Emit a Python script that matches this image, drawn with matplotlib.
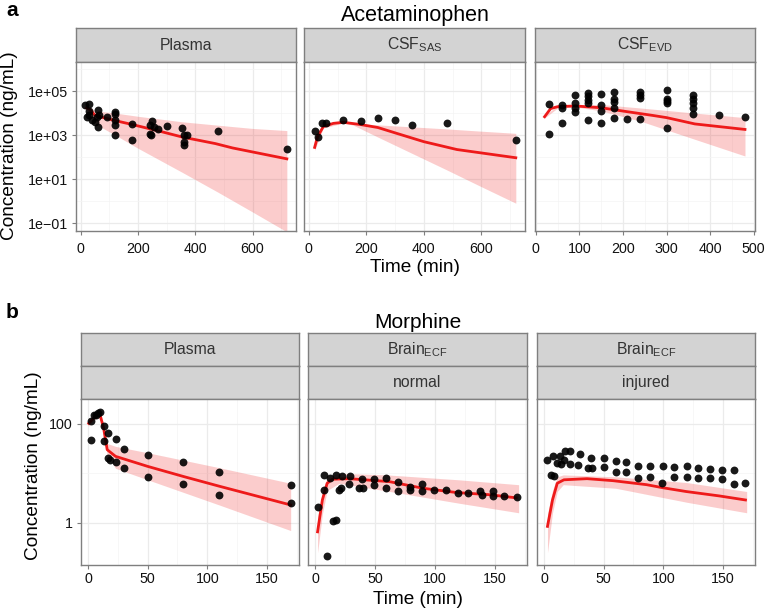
import numpy as np
import matplotlib.pyplot as plt
from matplotlib.ticker import FixedLocator, NullFormatter

plt.rcParams['font.family'] = ['Liberation Sans', 'DejaVu Sans']
plt.rcParams['mathtext.fontset'] = 'custom'
plt.rcParams['mathtext.rm'] = 'Liberation Sans'
plt.rcParams['mathtext.it'] = 'Liberation Sans'

# ---------------- data: acetaminophen ----------------
apap_plasma_t = [15, 30, 20, 30, 30, 40, 50, 60, 60, 55, 65, 90, 120, 120, 120, 120, 120,
                 180, 180, 240, 240, 250, 255, 245, 270, 300, 355, 360, 360, 360, 370, 480, 720]
apap_plasma_c = [22400, 26300, 6600, 7900, 12600, 4700, 4000, 2300, 13200, 6600, 7900, 6600,
                 9300, 4700, 2750, 1000, 11200, 3300, 575, 3000, 1150, 4400, 2300, 1000, 1800,
                 2600, 2100, 1000, 480, 360, 1000, 1480, 240]
apap_plasma_mt = [20, 30, 50, 115, 180, 275, 355, 470, 530, 720]
apap_plasma_med = [17000, 15000, 7800, 4700, 3000, 1500, 810, 410, 260, 83]
apap_plasma_rt = [20, 50, 120, 200, 355, 480, 600, 720]
apap_plasma_lo = [12600, 3200, 1000, 250, 20, 2.5, 0.32, 0.04]
apap_plasma_hi = [25000, 12600, 10000, 7100, 4000, 2800, 2000, 1600]

apap_sas_t = [20, 30, 45, 60, 120, 180, 240, 300, 360, 480, 720]
apap_sas_c = [1500, 780, 3400, 3600, 4800, 4500, 5900, 4800, 3000, 3600, 575]
apap_sas_mt = [20, 30, 50, 85, 120, 180, 240, 305, 400, 515, 720]
apap_sas_med = [275, 830, 2400, 3400, 3800, 3000, 2200, 1200, 500, 220, 93]
apap_sas_rt = [20, 50, 120, 155, 240, 360, 480, 600, 720]
apap_sas_lo = [200, 2100, 3500, 2800, 810, 145, 26, 4.5, 0.8]
apap_sas_hi = [380, 2700, 4200, 3400, 2900, 2350, 1900, 1500, 1200]

apap_evd_t = [30, 30, 60, 60, 60, 90, 90, 90, 90, 120, 120, 120, 120, 120, 150, 150, 150, 150,
              180, 180, 180, 180, 180, 210, 240, 240, 240, 240, 300, 300, 300, 300, 300,
              360, 360, 360, 360, 360, 420, 480]
apap_evd_c = [24500, 1150, 22400, 16200, 3600, 66000, 29500, 17400, 11200, 83000, 59000, 39000,
              29500, 4700, 76000, 22400, 12300, 3400, 95000, 41700, 31600, 16200, 6200, 5100,
              89000, 63000, 46800, 5500, 112000, 44700, 35500, 27500, 2000, 63000, 41700,
              29500, 17400, 8700, 8300, 6300]
apap_evd_mt = [20, 34, 50, 90, 150, 200, 270, 300, 365, 480]
apap_evd_med = [6800, 16000, 19500, 21000, 17400, 12300, 7700, 6200, 3200, 1800]
apap_evd_rt = [20, 50, 90, 150, 240, 360, 480]
apap_evd_lo = [6000, 17000, 19000, 12600, 4300, 690, 112]
apap_evd_hi = [7500, 22000, 23000, 24500, 17000, 10200, 6200]

# ---------------- data: morphine ----------------
mor_plasma_t = [2, 2, 5, 8, 10, 7, 13, 13, 17, 17, 18, 23, 23, 30, 30, 50, 50, 80, 80,
                110, 110, 170, 170]
mor_plasma_c = [112, 46, 151, 166, 170, 151, 89, 44, 66, 20, 18.6, 49, 16.6, 31, 12.6,
                23.4, 8.3, 16.6, 6.0, 10.7, 3.6, 5.75, 2.57]
mor_plasma_mt = [0.5, 6, 10, 13, 16, 23, 50, 81, 110, 170]
mor_plasma_med = [102, 141, 151, 81, 30, 22, 13.8, 8.5, 5.5, 2.3]
mor_plasma_rt = [0.5, 6, 10, 13, 16, 23, 50, 110, 170]
mor_plasma_lo = [90, 125, 135, 65, 23, 12.6, 7.4, 2.3, 0.7]
mor_plasma_hi = [115, 160, 175, 100, 40, 35, 26, 13, 6.3]

mor_normal_t = [2, 7, 7, 12, 10, 15, 17, 17, 22, 20, 21.5, 29, 28, 37, 40, 39, 49, 49, 59, 59,
                69, 69, 79, 79, 89, 89, 99, 109, 119, 128, 138, 139, 149, 149, 158, 169]
mor_normal_c = [2.1, 9.3, 4.7, 7.9, 0.21, 1.07, 1.12, 9.3, 8.9, 4.7, 5.0, 8.7, 6.0, 5.0, 5.1,
                7.6, 7.8, 5.9, 7.9, 5.0, 6.8, 4.5, 5.2, 4.7, 6.2, 4.3, 4.7, 4.7, 4.0, 4.1,
                4.5, 3.7, 4.3, 3.5, 3.5, 3.4]
mor_normal_mt = [2, 6, 10, 14.5, 28.5, 62, 90, 118, 146, 168]
mor_normal_med = [0.66, 2.9, 6.3, 7.6, 7.8, 6.8, 5.0, 4.1, 3.7, 3.2]
mor_normal_rt = [2, 6, 10, 20, 60, 120, 170]
mor_normal_lo = [0.25, 1.5, 4.5, 6.3, 4.4, 2.5, 1.6]
mor_normal_hi = [1.3, 4.0, 8.5, 10, 9.3, 7.4, 5.9]

mor_injured_t = [2, 5.5, 7.7, 8.3, 11, 13, 13.8, 17.4, 17, 22, 21.6, 28, 30, 37, 39.6, 40,
                 50, 50, 60, 60, 69, 69, 79, 79, 89, 89, 100, 99, 109, 109, 120, 120, 129, 129,
                 139, 139, 149, 149, 159, 159, 169]
mor_injured_c = [18.6, 9.3, 22.4, 8.9, 16.2, 21.9, 15.5, 28.8, 18.2, 28.8, 15.5, 14.8, 24.5,
                 12.6, 20.4, 12.6, 20.4, 13.2, 17.4, 10.5, 16.6, 10.5, 14.1, 7.9, 14.1, 8.3,
                 14.1, 6.5, 13.2, 8.3, 14.1, 8.3, 12.6, 7.9, 12.0, 7.9, 11.7, 7.8, 11.7, 6.2, 6.5]
mor_injured_mt = [2.8, 7, 11, 16.6, 36, 58, 86, 100, 119, 147, 169]
mor_injured_med = [0.85, 2.9, 6.3, 7.4, 7.8, 7.1, 5.9, 5.1, 4.3, 3.5, 2.9]
mor_injured_rt = [2.8, 7, 11, 16, 60, 120, 170]
mor_injured_lo = [0.25, 1.6, 4.3, 5.9, 5.0, 2.6, 1.6]
mor_injured_hi = [1.5, 4.5, 8.5, 9.3, 8.5, 6.5, 4.3]

# ---------------- axis ticks ----------------
apap_yticks = [1e-1, 1e1, 1e3, 1e5]
apap_yminor = [1e0, 1e2, 1e4, 1e6]
apap_ylabels = ['1e\u221201', '1e+01', '1e+03', '1e+05']
mor_yticks = [1, 100]
mor_yminor = [10]
mor_ylabels = ['1', '100']

W, H = 767, 609
fig = plt.figure(figsize=(W / 100, H / 100), dpi=100)

RED = '#EE1A1A'
BORDER = '#7F7F7F'
STRIP = '#D3D3D3'


def rect(l, t, r, b):
    return [l / W, 1 - b / H, (r - l) / W, (b - t) / H]


def strip(l, t, r, b, label):
    s = fig.add_axes(rect(l, t, r, b))
    s.set_facecolor(STRIP)
    s.set_xticks([])
    s.set_yticks([])
    for sp in s.spines.values():
        sp.set_color(BORDER)
        sp.set_linewidth(1)
    if label:
        s.text(0.5, 0.5, label, ha='center', va='center', fontsize=11.3,
               color='#333333', transform=s.transAxes)


def panel(box, t, c, mt, med, rt, lo, hi, xlim, xmaj, xmin, ylim, ymaj, ymin, ylab, xpad):
    ax = fig.add_axes(rect(*box))
    ax.set_yscale('log')
    ax.fill_between(rt, lo, hi, color=RED, alpha=0.22, linewidth=0)
    ax.plot(mt, med, color=RED, lw=2)
    ax.scatter(t, c, s=32, color='black', alpha=0.9, linewidths=0, zorder=3)
    ax.set_xlim(*xlim)
    ax.set_ylim(*ylim)
    ax.xaxis.set_major_locator(FixedLocator(xmaj))
    ax.xaxis.set_minor_locator(FixedLocator(xmin))
    ax.yaxis.set_major_locator(FixedLocator(ymaj))
    ax.yaxis.set_minor_locator(FixedLocator(ymin))
    ax.yaxis.set_minor_formatter(NullFormatter())
    ax.set_xticklabels([str(v) for v in xmaj])
    if ylab is not None:
        ax.set_yticklabels(ylab)
    else:
        ax.set_yticklabels([])
    ax.grid(which='major', color='#EBEBEB', lw=0.9)
    ax.grid(which='minor', color='#F4F4F4', lw=0.5)
    ax.set_axisbelow(True)
    ax.tick_params(which='major', length=3, color=BORDER, labelsize=10.3,
                   labelcolor='#111111', pad=3)
    ax.tick_params(axis='x', which='major', pad=xpad)
    ax.tick_params(which='minor', length=0)
    if ylab is None:
        ax.tick_params(axis='y', which='major', length=0)
    for sp in ax.spines.values():
        sp.set_color(BORDER)
        sp.set_linewidth(1)
    return ax


# ---------------- panel a ----------------
top_cols = [(76, 296), (304, 525), (535, 755)]
a_ylim = (10 ** -1.36, 10 ** 6.32)
x720 = (-17, 752)
a_strips = ['Plasma', r'CSF$_{\mathrm{SAS}}$', r'CSF$_{\mathrm{EVD}}$']
for (l, r), lab in zip(top_cols, a_strips):
    strip(l, 28, r, 62, lab)

ax1 = panel((76, 62, 296, 231), apap_plasma_t, apap_plasma_c, apap_plasma_mt, apap_plasma_med,
            apap_plasma_rt, apap_plasma_lo, apap_plasma_hi, x720, [0, 200, 400, 600],
            [100, 300, 500, 700], a_ylim, apap_yticks, apap_yminor, apap_ylabels, 5)
ax2 = panel((304, 62, 525, 231), apap_sas_t, apap_sas_c, apap_sas_mt, apap_sas_med,
            apap_sas_rt, apap_sas_lo, apap_sas_hi, x720, [0, 200, 400, 600],
            [100, 300, 500, 700], a_ylim, apap_yticks, apap_yminor, None, 5)
ax3 = panel((535, 62, 755, 231), apap_evd_t, apap_evd_c, apap_evd_mt, apap_evd_med,
            apap_evd_rt, apap_evd_lo, apap_evd_hi, (-2, 503), [0, 100, 200, 300, 400, 500],
            [50, 150, 250, 350, 450], a_ylim, apap_yticks, apap_yminor, None, 5)

fig.text(415 / W, 1 - 16 / H, 'Acetaminophen', ha='center', va='center', fontsize=15.5)
fig.text(415 / W, 1 - 268 / H, 'Time (min)', ha='center', va='center', fontsize=13.7)
fig.text(10 / W, 1 - 146 / H, 'Concentration (ng/mL)', ha='center', va='center',
         rotation=90, fontsize=13.7)
fig.text(6 / W, 1 - 11 / H, 'a', ha='left', va='center', fontsize=15, fontweight='bold')

# ---------------- panel b ----------------
bot_cols = [(81, 299), (308, 527), (537, 755)]
b_ylim = (10 ** -0.85, 10 ** 2.5)
b_x = (-6, 177)
b_top = ['Plasma', r'Brain$_{\mathrm{ECF}}$', r'Brain$_{\mathrm{ECF}}$']
b_sub = ['', 'normal', 'injured']
for (l, r), lab, sub in zip(bot_cols, b_top, b_sub):
    strip(l, 333, r, 366, lab)
    strip(l, 366, r, 399, sub)

bx1 = panel((81, 399, 299, 565), mor_plasma_t, mor_plasma_c, mor_plasma_mt, mor_plasma_med,
            mor_plasma_rt, mor_plasma_lo, mor_plasma_hi, b_x, [0, 50, 100, 150],
            [25, 75, 125, 175], b_ylim, mor_yticks, mor_yminor, mor_ylabels, 2)
bx2 = panel((308, 399, 527, 565), mor_normal_t, mor_normal_c, mor_normal_mt, mor_normal_med,
            mor_normal_rt, mor_normal_lo, mor_normal_hi, b_x, [0, 50, 100, 150],
            [25, 75, 125, 175], b_ylim, mor_yticks, mor_yminor, None, 2)
bx3 = panel((537, 399, 755, 565), mor_injured_t, mor_injured_c, mor_injured_mt,
            mor_injured_med, mor_injured_rt, mor_injured_lo, mor_injured_hi, b_x,
            [0, 50, 100, 150], [25, 75, 125, 175], b_ylim, mor_yticks, mor_yminor, None, 2)

fig.text(418 / W, 1 - 322 / H, 'Morphine', ha='center', va='center', fontsize=15)
fig.text(418 / W, 1 - 599 / H, 'Time (min)', ha='center', va='center', fontsize=13.7)
fig.text(34 / W, 1 - 466 / H, 'Concentration (ng/mL)', ha='center', va='center',
         rotation=90, fontsize=13.7)
fig.text(6 / W, 1 - 312 / H, 'b', ha='left', va='center', fontsize=15, fontweight='bold')

fig.savefig('out.png', dpi=100)
